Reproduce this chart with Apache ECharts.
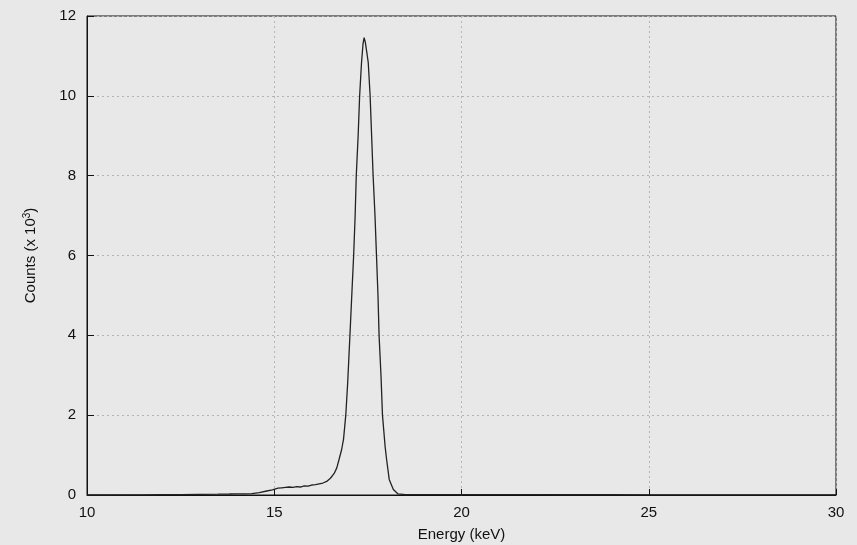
<!DOCTYPE html>
<html>
<head>
<meta charset="utf-8">
<script src="https://cdn.jsdelivr.net/npm/echarts@6/dist/echarts.min.js"></script>
<style>
html,body{margin:0;padding:0;background:#e8e8e8;}
#chart{width:857px;height:545px;}
</style>
</head>
<body>
<div id="chart"></div>
<script>
var energy = [10.0,10.5,11.0,11.5,12.0,12.5,13.0,13.5,13.8,14.0,14.2,14.4,14.6,14.8,14.95,15.0,15.1,15.2,15.3,15.4,15.5,15.6,15.7,15.8,15.9,16.0,16.1,16.2,16.3,16.4,16.5,16.6,16.67,16.73,16.8,16.85,16.91,16.96,17.02,17.07,17.12,17.16,17.19,17.24,17.28,17.33,17.37,17.40,17.43,17.47,17.51,17.56,17.60,17.64,17.69,17.73,17.77,17.80,17.85,17.89,17.96,18.0,18.07,18.18,18.3,18.5,19.0,20.0,21.0,22.0,23.0,24.0,25.0,26.0,27.0,28.0,29.0,30.0];
var counts = [0.0,0.0,0.005,0.005,0.01,0.01,0.015,0.02,0.025,0.03,0.03,0.035,0.06,0.1,0.13,0.16,0.17,0.18,0.19,0.2,0.19,0.21,0.2,0.23,0.22,0.25,0.26,0.28,0.30,0.34,0.42,0.54,0.68,0.89,1.14,1.4,2.0,2.8,3.98,5.0,6.0,7.0,8.0,9.0,10.0,10.83,11.3,11.46,11.35,11.1,10.83,10.0,9.0,8.0,7.0,6.0,5.0,3.98,3.0,2.0,1.22,0.89,0.39,0.14,0.03,0.01,0.01,0.01,0.008,0.008,0.006,0.006,0.005,0.005,0.005,0.005,0.005,0.005];
var xTicks = [10,15,20,25,30];
var yTicks = [0,2,4,6,8,10,12];

var data = energy.map(function(e,i){return [e,counts[i]];});
var chart = echarts.init(document.getElementById('chart'));
var font = 'Liberation Sans, Arial, sans-serif';
chart.setOption({
  backgroundColor:'#e8e8e8',
  animation:false,
  grid:{left:87,right:21,top:16,bottom:50,containLabel:false,outerBoundsMode:'none',show:true,borderColor:'#111',borderWidth:1,backgroundColor:'transparent'},
  xAxis:{
    type:'value',min:xTicks[0],max:xTicks[xTicks.length-1],interval:5,
    name:'Energy (keV)',nameLocation:'middle',nameGap:32,
    nameTextStyle:{fontFamily:font,fontSize:15,color:'#111'},
    axisLine:{show:true,lineStyle:{color:'#111',width:1}},
    axisTick:{show:true,inside:true,length:6,lineStyle:{color:'#111'}},
    axisLabel:{fontFamily:font,fontSize:15,color:'#111',margin:10},
    splitLine:{show:true,lineStyle:{color:'#b4b4b4',type:[2,3],width:1}}
  },
  yAxis:{
    type:'value',min:yTicks[0],max:yTicks[yTicks.length-1],interval:2,
    name:'{a|Counts (x 10}{s|3}{a|)}',nameLocation:'middle',nameGap:48,
    nameTextStyle:{rich:{a:{fontFamily:font,fontSize:15,color:'#111'},s:{fontFamily:font,fontSize:10,color:'#111',verticalAlign:'top',padding:[0,0,7,0]}}},
    axisLine:{show:true,lineStyle:{color:'#111',width:1}},
    axisTick:{show:true,inside:true,length:7,lineStyle:{color:'#111'}},
    axisLabel:{fontFamily:font,fontSize:15,color:'#111',margin:11},
    splitLine:{show:true,lineStyle:{color:'#b4b4b4',type:[2,3],width:1}}
  },
  series:[{
    type:'line',data:data,showSymbol:false,smooth:false,
    lineStyle:{color:'#222',width:1.3}
  }]
});
</script>
</body>
</html>
